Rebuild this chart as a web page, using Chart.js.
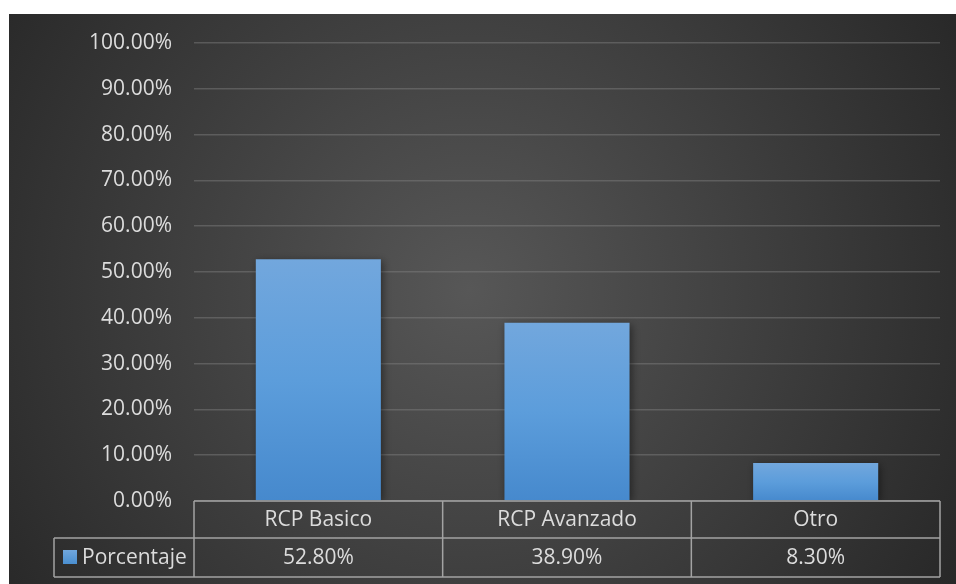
<!DOCTYPE html>
<html>
<head>
<meta charset="utf-8">
<script src="https://cdn.jsdelivr.net/npm/chart.js@4/dist/chart.umd.min.js"></script>
<style>
  html, body { margin: 0; padding: 0; background: #ffffff; }
  #wrap { width: 956px; height: 584px; position: relative; }
</style>
</head>
<body>
<div id="wrap"><canvas id="c" width="956" height="584"></canvas></div>
<script>
const categories = ['RCP Basico', 'RCP Avanzado', 'Otro'];
const porcentaje = [52.8, 38.9, 8.3];
const seriesName = 'Porcentaje';
const yTicksMax = 100;
const yTickStep = 10;

const FONT = '"Open Sans", "Noto Sans", sans-serif';
const FONT_SIZE = 21;
const TEXT = '#dcdcdc';
const TABLE_LINE = '#a3a3a3';

const bgPlugin = {
  id: 'bg',
  beforeDraw(chart) {
    const ctx = chart.ctx;
    ctx.save();
    ctx.fillStyle = '#ffffff';
    ctx.fillRect(0, 0, chart.width, chart.height);
    const g = ctx.createRadialGradient(470, 290, 0, 470, 290, 600);
    g.addColorStop(0, '#575757');
    g.addColorStop(1, '#252525');
    ctx.fillStyle = g;
    ctx.fillRect(9, 14, chart.width - 9, chart.height - 14);
    ctx.restore();
  }
};

const shadowPlugin = {
  id: 'shadow',
  beforeDatasetDraw(chart) {
    const ctx = chart.ctx;
    ctx.save();
    ctx.shadowColor = 'rgba(0,0,0,0.45)';
    ctx.shadowBlur = 8;
    ctx.shadowOffsetX = 2;
    ctx.shadowOffsetY = 2;
  },
  afterDatasetDraw(chart) {
    chart.ctx.restore();
  }
};

const tablePlugin = {
  id: 'dataTable',
  afterDraw(chart) {
    const ctx = chart.ctx;
    const area = chart.chartArea;
    const x = chart.scales.x;
    const y0 = area.bottom;
    const y1 = y0 + 37;
    const y2 = y1 + 39;
    const legendLeft = 54;
    const bounds = [area.left];
    for (let i = 0; i < categories.length - 1; i++) {
      bounds.push((x.getPixelForValue(i) + x.getPixelForValue(i + 1)) / 2);
    }
    bounds.push(area.right);

    ctx.save();
    ctx.strokeStyle = TABLE_LINE;
    ctx.lineWidth = 1.5;
    ctx.beginPath();
    ctx.moveTo(area.left, y0); ctx.lineTo(area.right, y0);
    ctx.moveTo(legendLeft, y1); ctx.lineTo(area.right, y1);
    ctx.moveTo(legendLeft, y2); ctx.lineTo(area.right, y2);
    bounds.forEach(b => { ctx.moveTo(b, y0); ctx.lineTo(b, y2); });
    ctx.moveTo(legendLeft, y1); ctx.lineTo(legendLeft, y2);
    ctx.stroke();

    ctx.fillStyle = TEXT;
    ctx.font = FONT_SIZE + 'px ' + FONT;
    ctx.textAlign = 'center';
    ctx.textBaseline = 'middle';
    categories.forEach((c, i) => {
      const cx = x.getPixelForValue(i);
      ctx.fillText(c, cx, (y0 + y1) / 2 + 1);
      ctx.fillText(porcentaje[i].toFixed(2) + '%', cx, (y1 + y2) / 2 + 1);
    });

    const g = ctx.createLinearGradient(0, y1 + 12, 0, y1 + 26);
    g.addColorStop(0, '#71a7dd');
    g.addColorStop(1, '#4a8fd0');
    ctx.fillStyle = g;
    ctx.fillRect(63, y1 + 12, 14, 14);
    ctx.fillStyle = TEXT;
    ctx.textAlign = 'left';
    ctx.fillText(seriesName, 82, (y1 + y2) / 2 + 1);
    ctx.restore();
  }
};

new Chart(document.getElementById('c'), {
  type: 'bar',
  data: {
    labels: categories,
    datasets: [{
      label: seriesName,
      data: porcentaje,
      backgroundColor(context) {
        const chart = context.chart;
        const area = chart.chartArea;
        if (!area || context.dataIndex === undefined) return '#5b9bd5';
        const yScale = chart.scales.y;
        const top = yScale.getPixelForValue(context.raw);
        const bottom = yScale.getPixelForValue(0);
        const g = chart.ctx.createLinearGradient(0, top, 0, bottom);
        g.addColorStop(0, '#72a7dd');
        g.addColorStop(0.5, '#5c9ddb');
        g.addColorStop(1, '#4689cd');
        return g;
      },
      borderWidth: 0,
      categoryPercentage: 1,
      barPercentage: 0.503
    }]
  },
  options: {
    responsive: false,
    animation: false,
    devicePixelRatio: 1,
    layout: { padding: { left: 0, right: 16, top: 43, bottom: 83 } },
    plugins: {
      legend: { display: false },
      tooltip: { enabled: false }
    },
    scales: {
      x: { display: false },
      y: {
        min: 0,
        max: yTicksMax,
        afterFit(scale) { scale.width = 194; },
        ticks: {
          stepSize: yTickStep,
          color: TEXT,
          font: { family: FONT, size: FONT_SIZE },
          padding: 22,
          callback: v => Number(v).toFixed(2) + '%'
        },
        grid: {
          color: 'rgba(130,130,130,0.45)',
          lineWidth: 1.5,
          drawTicks: false
        },
        border: { display: false }
      }
    }
  },
  plugins: [bgPlugin, shadowPlugin, tablePlugin]
});
</script>
</body>
</html>
